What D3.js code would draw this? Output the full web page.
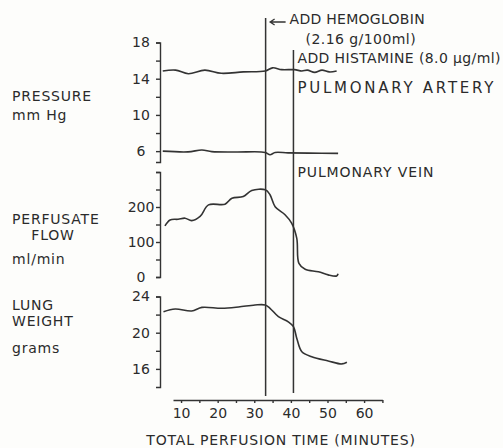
<!doctype html>
<html lang="en">
<head>
<meta charset="utf-8">
<title>Lung perfusion</title>
<style>
    body {
        margin: 0;
        background-color: #fdfdfb;
    }
    svg {
        display: block;
        font-family: 'DejaVu Sans', sans-serif;
    }
    .lbl {
        fill: #2b2b2b;
        font-size: 14px;
        letter-spacing: 0.8px;
    }
    .note {
        fill: #2b2b2b;
        font-size: 14px;
    }
    .axis path, .axis line {
        stroke: #333;
        stroke-width: 1.4;
    }
    .axis text {
        fill: #2b2b2b;
        font-size: 14px;
        font-family: 'DejaVu Sans', sans-serif;
    }
</style>
</head>
<body>
<svg id="chart"></svg>
<script src="https://d3js.org/d3.v7.min.js"></script>
<script>
    // time in minutes
    var arteryTime = [5, 8.5, 12, 16.5, 21, 27, 33, 35, 37.5, 41, 43, 44.5, 46.5, 48.5, 50.5, 52.5];
    var arteryPressure = [14.85, 14.95, 14.55, 14.95, 14.6, 14.75, 14.85, 15.2, 15.0, 15.0, 14.85, 14.95, 14.7, 14.95, 14.75, 14.85];

    var veinTime = [5, 11.9, 15.7, 18.4, 25, 33, 34.3, 35.7, 39.2, 45, 52.9];
    var veinPressure = [6.0, 5.92, 6.12, 5.95, 5.9, 5.86, 5.6, 5.85, 5.81, 5.78, 5.75];

    var flowTime = [5.6, 7.0, 9.2, 11.1, 12.9, 15.2, 17.5, 22.0, 23.9, 27.0, 29.3, 33.0, 34.3, 35.7, 38.4, 40.2, 41.6, 42.2, 43.9, 47.5, 50.2, 52.5, 52.9];
    var flowRate = [146, 163, 165, 168, 161, 173, 206, 208, 225, 230, 247, 249, 235, 201, 178, 154, 111, 39, 22, 15, 6, 3, 9];

    var weightTime = [5.2, 8.4, 12.9, 15.7, 21.1, 25.7, 30.2, 33.0, 34.3, 36.6, 39.3, 40.7, 41.6, 43.0, 45.7, 50.2, 53.9, 55.3];
    var lungWeight = [22.32, 22.62, 22.4, 22.8, 22.7, 22.84, 23.06, 23.06, 22.7, 21.77, 21.2, 20.67, 19.4, 17.9, 17.35, 16.88, 16.55, 16.74];

    var timeLabels = [10, 20, 30, 40, 50, 60];
    var pressureLabels = [6, 10, 14, 18];
    var flowLabels = [0, 100, 200];
    var weightLabels = [16, 20, 24];

    var hemoglobinTime = 33.1;
    var histamineTime = 40.7;

    var svg = d3.select("#chart").attr("width", 503).attr("height", 448);

    var x = d3.scaleLinear().domain([7.8, 65]).range([173, 382.4]);
    var yP = d3.scaleLinear().domain([4.8, 18]).range([162, 42.5]);
    var yF = d3.scaleLinear().domain([0, 300]).range([277, 172]);
    var yW = d3.scaleLinear().domain([14, 24]).range([387, 296.5]);
    var axisX = 160;

    function leftAxis(scale, ticks, labels) {
        var g = svg.append("g")
            .attr("class", "axis")
            .attr("transform", "translate(" + axisX + ",0)")
            .call(d3.axisLeft(scale)
                .tickValues(ticks)
                .tickSize(4)
                .tickSizeOuter(4)
                .tickFormat(function (d) { return labels.indexOf(d) >= 0 ? d : ""; }));
        g.selectAll("text")
            .attr("x", -19)
            .attr("text-anchor", "middle");
        return g;
    }

    leftAxis(yP, d3.range(6, 19, 2), pressureLabels);
    leftAxis(yF, d3.range(0, 301, 50), flowLabels);
    leftAxis(yW, d3.range(16, 25, 2), weightLabels);

    svg.append("g")
        .attr("class", "axis")
        .attr("transform", "translate(0,400)")
        .call(d3.axisBottom(x)
            .tickValues(d3.range(10, 66, 5))
            .tickSize(3)
            .tickSizeOuter(0)
            .tickPadding(5)
            .tickFormat(function (d) { return timeLabels.indexOf(d) >= 0 ? d : ""; }));

    // curves
    function drawLine(times, values, yScale) {
        var pts = times.map(function (t, i) { return [t, values[i]]; });
        svg.append("path")
            .datum(pts)
            .attr("fill", "none")
            .attr("stroke", "#333")
            .attr("stroke-width", 1.6)
            .attr("stroke-linejoin", "round")
            .attr("d", d3.line()
                .curve(d3.curveCatmullRom)
                .x(function (d) { return x(d[0]); })
                .y(function (d) { return yScale(d[1]); }));
    }

    drawLine(arteryTime, arteryPressure, yP);
    drawLine(veinTime, veinPressure, yP);
    drawLine(flowTime, flowRate, yF);
    drawLine(weightTime, lungWeight, yW);

    // event markers
    var xh = x(hemoglobinTime), xs = x(histamineTime);
    svg.append("line")
        .attr("x1", xh).attr("x2", xh).attr("y1", 18).attr("y2", 396)
        .attr("stroke", "#333").attr("stroke-width", 1.5);
    svg.append("line")
        .attr("x1", xs).attr("x2", xs).attr("y1", 50).attr("y2", 393)
        .attr("stroke", "#333").attr("stroke-width", 1.5);

    svg.append("path")
        .attr("d", "M" + (xh + 20) + ",22H" + (xh + 5) + "M" + (xh + 9) + ",19L" + (xh + 4.5) + ",22L" + (xh + 9) + ",25")
        .attr("fill", "none").attr("stroke", "#333").attr("stroke-width", 1.3);

    // text, x, baseline, width on the figure, font size
    var notes = [
        ["ADD HEMOGLOBIN", xh + 24, 24, 135, 14],
        ["(2.16 g/100ml)", xh + 40, 44, 110, 14],
        ["ADD HISTAMINE (8.0 \u00b5g/ml)", xs + 4, 63, 203, 14],
        ["PULMONARY ARTERY", xs + 4, 93, 196, 15],
        ["PULMONARY VEIN", xs + 4, 177, 136, 14]
    ];
    notes.forEach(function (n) {
        svg.append("text").attr("class", "note")
            .attr("x", n[1]).attr("y", n[2])
            .attr("textLength", n[3])
            .attr("lengthAdjust", "spacing")
            .style("font-size", n[4] + "px")
            .text(n[0]);
    });

    var leftText = [
        ["PRESSURE", 12, 101, "start"],
        ["mm Hg", 12, 120, "start"],
        ["PERFUSATE", 12, 224, "start"],
        ["FLOW", 53, 240, "middle"],
        ["ml/min", 12, 264, "start"],
        ["LUNG", 12, 310, "start"],
        ["WEIGHT", 12, 326, "start"],
        ["grams", 12, 353, "start"]
    ];
    leftText.forEach(function (n) {
        svg.append("text").attr("class", "lbl")
            .attr("x", n[1]).attr("y", n[2])
            .attr("text-anchor", n[3]).text(n[0]);
    });

    svg.append("text").attr("class", "lbl")
        .attr("x", 281).attr("y", 445)
        .attr("text-anchor", "middle")
        .text("TOTAL PERFUSION TIME (MINUTES)");
</script>
</body>
</html>
